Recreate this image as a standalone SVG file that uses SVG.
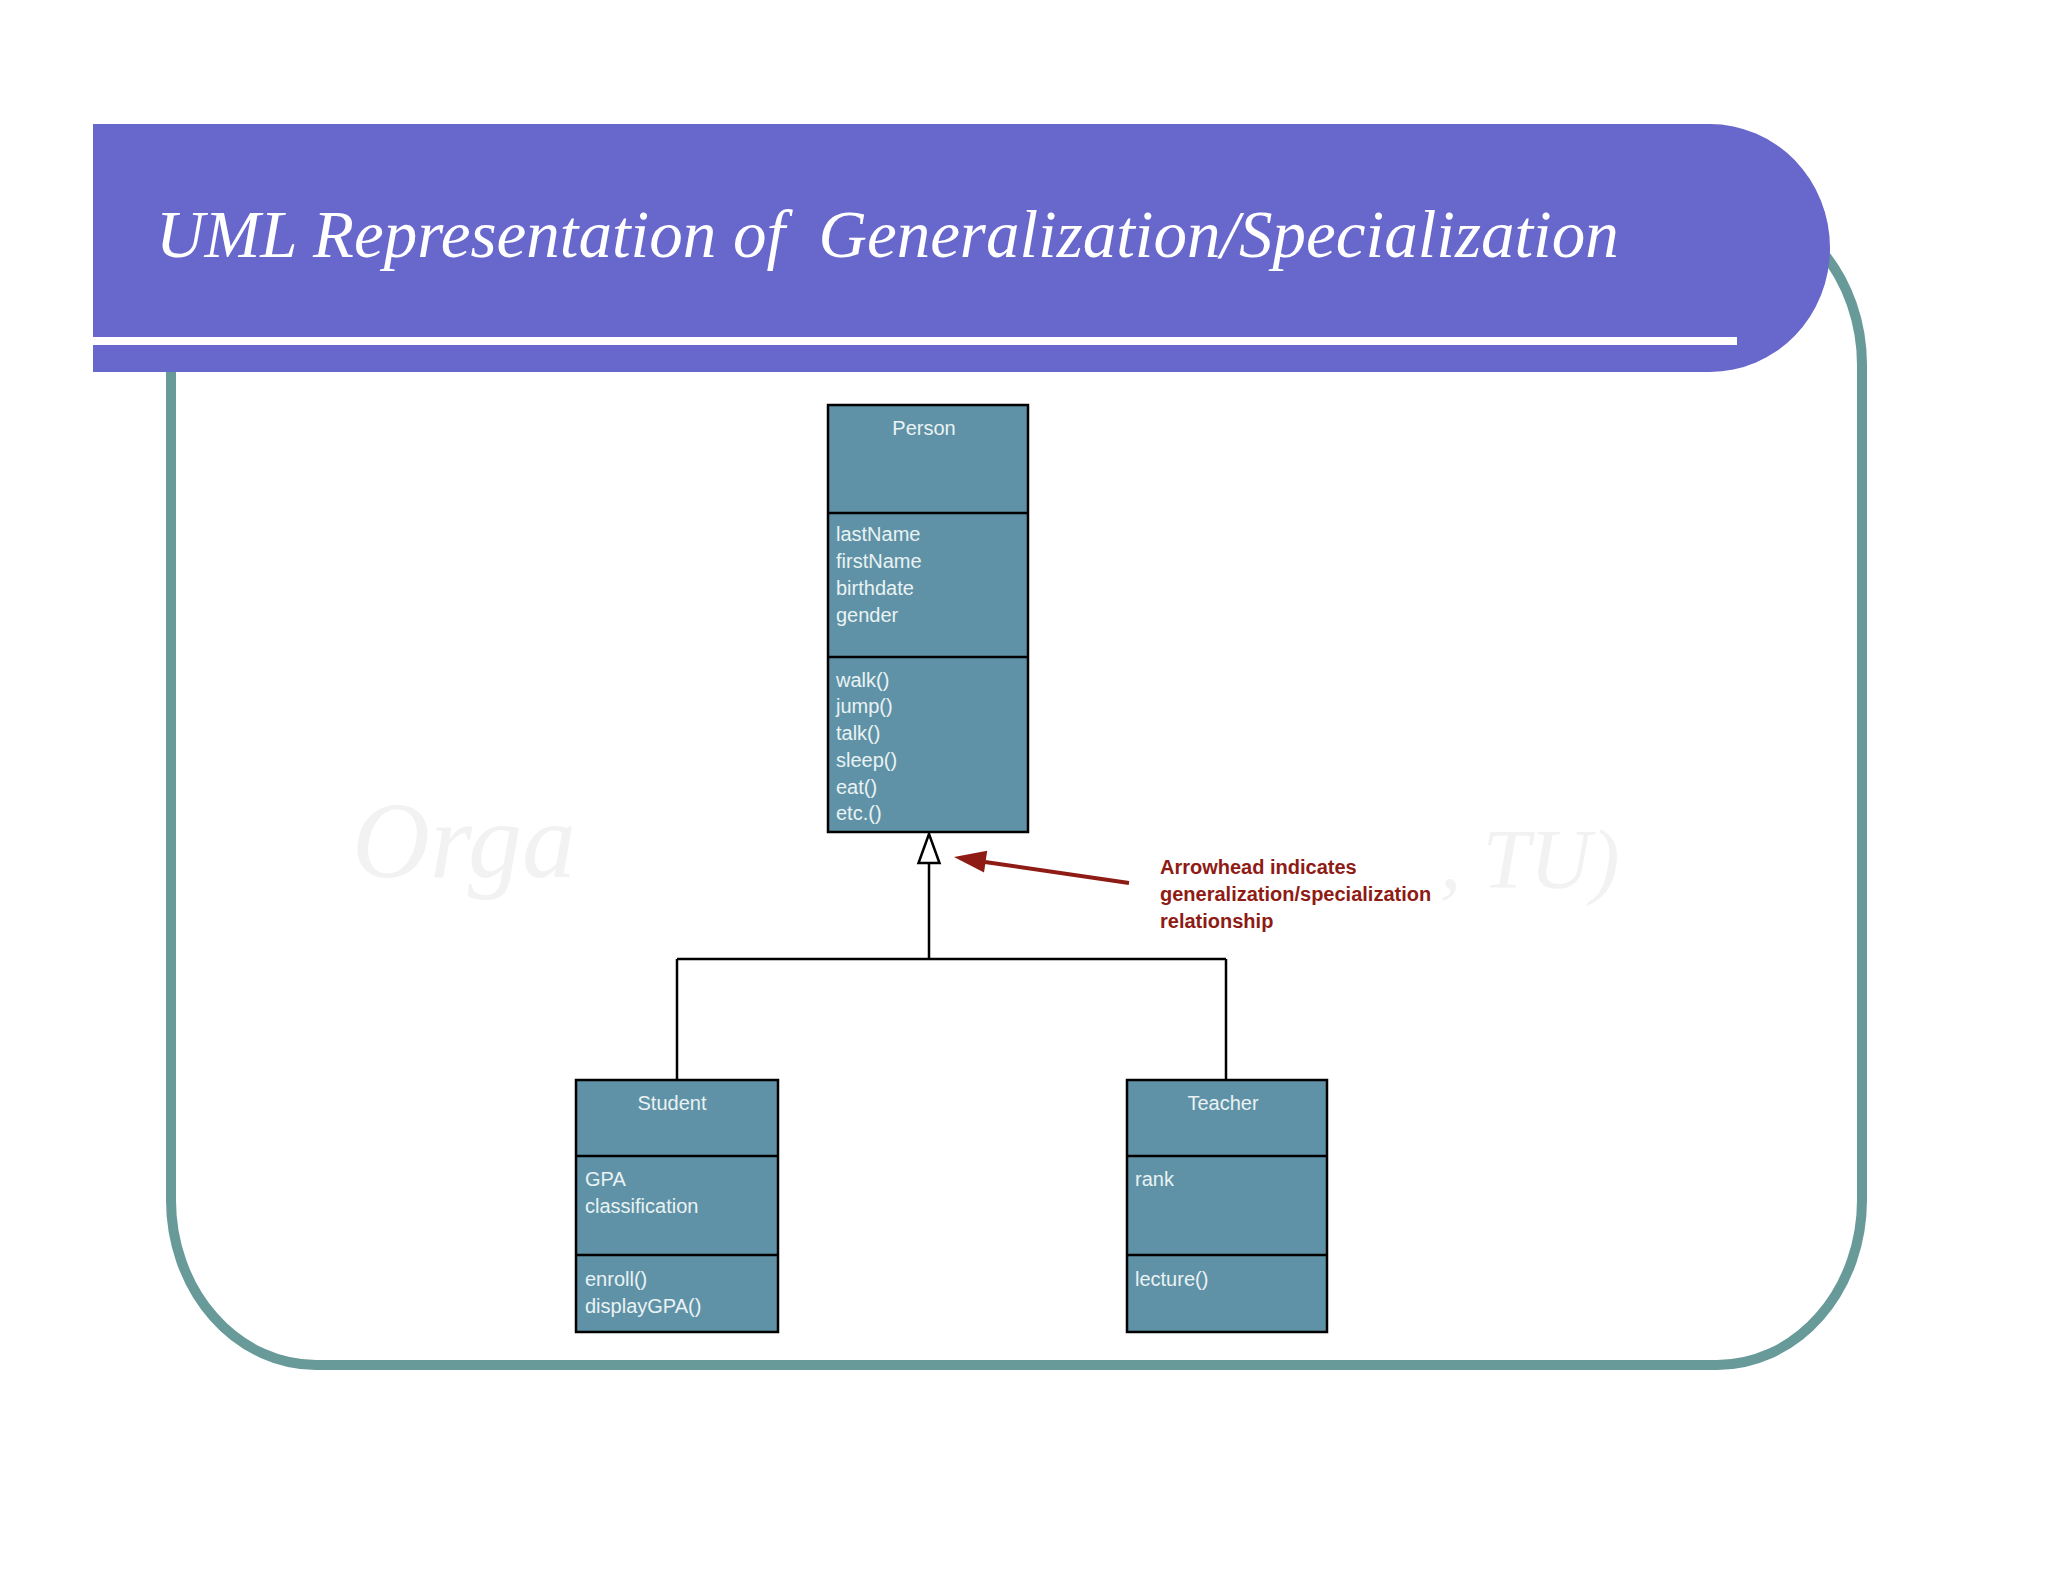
<svg xmlns="http://www.w3.org/2000/svg" width="2048" height="1582" viewBox="0 0 2048 1582">
<defs>
<style>
.box{fill:#5f92a6;stroke:#000;stroke-width:2.5}
.div{stroke:#000;stroke-width:2.5}
.t{font-family:"Liberation Sans",Arial,sans-serif;font-size:20px;fill:#eaf2f4}
.c{text-anchor:middle}
.conn{fill:none;stroke:#000;stroke-width:2.5}
.note{font-family:"Liberation Sans",Arial,sans-serif;font-size:20px;font-weight:bold;fill:#8e1b14}
.wm{font-family:"Liberation Serif","Times New Roman",serif;font-style:italic;fill:#f2f2f2}
</style>
</defs>
<rect width="2048" height="1582" fill="#ffffff"/>
<g id="frame">
<rect x="171" y="200" width="1691" height="1165" rx="145" ry="165" fill="none" stroke="#679a98" stroke-width="10"/>
</g>
<g id="watermark">
<text class="wm" x="352" y="877" font-size="108">Orga</text>
<text class="wm" x="1440" y="888" font-size="85">, TU)</text>
</g>
<g id="header">
<path d="M93,124 H1710 A120,124 0 0 1 1710,372 H93 Z" fill="#6867cc"/>
<rect x="93" y="337" width="1644" height="8" fill="#ffffff"/>
<text x="156" y="257" font-family="'Liberation Serif','Times New Roman',serif" font-style="italic" font-size="67" fill="#ffffff" style="white-space:pre">UML Representation of  Generalization/Specialization</text>
</g>
<g id="connectors">
<path class="conn" d="M929,863 V959 M677,959 H1226 M677,959 V1080 M1226,959 V1080"/>
<polygon points="929,834 918.5,863 939.5,863" fill="#ffffff" stroke="#000" stroke-width="2.5" stroke-linejoin="miter"/>
<line x1="1129" y1="883" x2="985" y2="862" stroke="#8e1b14" stroke-width="4"/>
<polygon points="954,857 987.2,850.8 984,872.6" fill="#8e1b14"/>
</g>
<g id="person">
<rect class="box" x="828" y="405" width="200" height="427"/>
<line class="div" x1="828" y1="513" x2="1028" y2="513"/>
<line class="div" x1="828" y1="657" x2="1028" y2="657"/>
<text class="t c" x="924" y="435">Person</text>
<text class="t" x="836" y="541">lastName</text>
<text class="t" x="836" y="568">firstName</text>
<text class="t" x="836" y="595">birthdate</text>
<text class="t" x="836" y="622">gender</text>
<text class="t" x="836" y="687">walk()</text>
<text class="t" x="836" y="713">jump()</text>
<text class="t" x="836" y="740">talk()</text>
<text class="t" x="836" y="767">sleep()</text>
<text class="t" x="836" y="794">eat()</text>
<text class="t" x="836" y="820">etc.()</text>
</g>
<g id="student">
<rect class="box" x="576" y="1080" width="202" height="252"/>
<line class="div" x1="576" y1="1156" x2="778" y2="1156"/>
<line class="div" x1="576" y1="1255" x2="778" y2="1255"/>
<text class="t c" x="672" y="1110">Student</text>
<text class="t" x="585" y="1186">GPA</text>
<text class="t" x="585" y="1213">classification</text>
<text class="t" x="585" y="1286">enroll()</text>
<text class="t" x="585" y="1313">displayGPA()</text>
</g>
<g id="teacher">
<rect class="box" x="1127" y="1080" width="200" height="252"/>
<line class="div" x1="1127" y1="1156" x2="1327" y2="1156"/>
<line class="div" x1="1127" y1="1255" x2="1327" y2="1255"/>
<text class="t c" x="1223" y="1110">Teacher</text>
<text class="t" x="1135" y="1186">rank</text>
<text class="t" x="1135" y="1286">lecture()</text>
</g>
<g id="note">
<text class="note" x="1160" y="874">Arrowhead indicates</text>
<text class="note" x="1160" y="901">generalization/specialization</text>
<text class="note" x="1160" y="928">relationship</text>
</g>
</svg>
